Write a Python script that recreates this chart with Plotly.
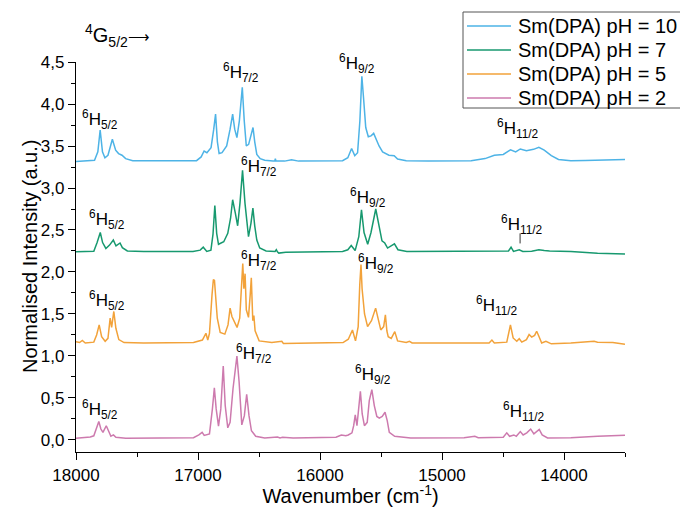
import plotly.graph_objects as go

# ---------------- data ----------------
WN_PH10 = [18000, 17913, 17848, 17821, 17802, 17783, 17763, 17738, 17702, 17675, 17651, 17623, 17593, 17535,
           17155, 17012, 16974, 16950, 16927, 16893, 16871, 16856, 16841, 16827, 16803, 16765, 16737, 16716,
           16699, 16681, 16661, 16637, 16621, 16604, 16585, 16564, 16549, 16535, 16518, 16490, 16453, 16385,
           16371, 16366, 16361, 16290, 16233, 16176, 15986, 15815, 15772, 15741, 15715, 15692, 15673, 15657,
           15642, 15625, 15604, 15582, 15560, 15540, 15516, 15487, 15435, 15392, 15364, 15293, 15112, 14761,
           14713, 14647, 14571, 14498, 14438, 14396, 14358, 14308, 14250, 14206, 14162, 14104, 14045, 13944,
           13827, 13725, 13500]
INT_PH10 = [3.315, 3.322, 3.33, 3.43, 3.69, 3.43, 3.36, 3.39, 3.58, 3.45, 3.41, 3.39, 3.35, 3.325,
            3.32, 3.325, 3.37, 3.44, 3.42, 3.48, 3.70, 3.88, 3.55, 3.41, 3.42, 3.50, 3.70, 3.88,
            3.70, 3.60, 3.80, 4.20, 3.80, 3.50, 3.52, 3.66, 3.72, 3.55, 3.40, 3.35, 3.33, 3.32,
            3.32, 3.35, 3.32, 3.32, 3.335, 3.32, 3.32, 3.325, 3.36, 3.47, 3.385, 3.42, 3.80, 4.33,
            4.05, 3.72, 3.61, 3.62, 3.65, 3.58, 3.50, 3.43, 3.39, 3.385, 3.345, 3.325, 3.32, 3.325,
            3.335, 3.35, 3.39, 3.40, 3.455, 3.43, 3.465, 3.445, 3.46, 3.485, 3.45, 3.385, 3.34, 3.325,
            3.328, 3.33, 3.34]

WN_PH7 = [18000, 17854, 17827, 17801, 17782, 17755, 17725, 17694, 17672, 17639, 17620, 17579, 17445, 17041,
          16982, 16957, 16928, 16894, 16877, 16862, 16847, 16832, 16789, 16756, 16733, 16716, 16694, 16675,
          16656, 16635, 16615, 16586, 16566, 16550, 16535, 16518, 16494, 16442, 16368, 16358, 16349, 16338,
          16281, 15815, 15772, 15744, 15712, 15682, 15660, 15639, 15609, 15582, 15543, 15516, 15492, 15469,
          15446, 15390, 15361, 15288, 14528, 14455, 14434, 14414, 14367, 14338, 14265, 14206, 14162, 14118,
          13944, 13827, 13725, 13500]
INT_PH7 = [2.24, 2.247, 2.35, 2.47, 2.35, 2.28, 2.32, 2.38, 2.31, 2.345, 2.29, 2.25, 2.245, 2.245,
           2.26, 2.295, 2.245, 2.26, 2.45, 2.79, 2.46, 2.33, 2.36, 2.46, 2.64, 2.86, 2.70, 2.55,
           2.82, 3.21, 2.82, 2.42, 2.58, 2.76, 2.55, 2.38, 2.285, 2.25, 2.245, 2.265, 2.24, 2.225,
           2.235, 2.245, 2.265, 2.315, 2.255, 2.42, 2.74, 2.47, 2.33, 2.47, 2.75, 2.54, 2.37, 2.345,
           2.285, 2.335, 2.265, 2.245, 2.245, 2.25, 2.295, 2.245, 2.265, 2.245, 2.248, 2.265, 2.255, 2.25,
           2.243, 2.23, 2.222, 2.213]

WN_PH5 = [18000, 17971, 17948, 17924, 17854, 17831, 17810, 17790, 17761, 17738, 17720, 17708, 17690, 17673,
          17649, 17606, 17445, 17037, 16964, 16935, 16920, 16906, 16885, 16874, 16865, 16851, 16842, 16818,
          16780, 16754, 16737, 16722, 16701, 16680, 16658, 16642, 16633, 16624, 16614, 16604, 16586, 16572,
          16563, 16551, 16542, 16532, 16499, 16395, 16313, 16300, 15811, 15768, 15734, 15709, 15687, 15674,
          15664, 15655, 15648, 15635, 15610, 15578, 15544, 15521, 15502, 15478, 15464, 15452, 15441, 15416,
          15387, 15364, 15293, 15267, 15245, 14614, 14591, 14571, 14469, 14439, 14417, 14387, 14367, 14346,
          14308, 14286, 14265, 14241, 14224, 14206, 14183, 14148, 14104, 13944, 13799, 13753, 13725, 13600,
          13500]
INT_PH5 = [1.17, 1.16, 1.185, 1.155, 1.165, 1.25, 1.37, 1.23, 1.175, 1.21, 1.45, 1.34, 1.53, 1.33,
           1.195, 1.16, 1.155, 1.16, 1.19, 1.27, 1.19, 1.27, 1.73, 1.91, 1.90, 1.60, 1.45, 1.28,
           1.26, 1.37, 1.57, 1.47, 1.40, 1.34, 1.45, 1.81, 2.10, 1.80, 1.98, 1.55, 1.46, 1.73,
           1.93, 1.42, 1.48, 1.30, 1.18, 1.16, 1.175, 1.15, 1.16, 1.20, 1.31, 1.18, 1.35, 1.85,
           2.09, 1.80, 1.67, 1.50, 1.35, 1.42, 1.57, 1.42, 1.31, 1.35, 1.49, 1.30, 1.23, 1.21,
           1.29, 1.18, 1.16, 1.175, 1.155, 1.155, 1.19, 1.155, 1.165, 1.37, 1.215, 1.175, 1.205, 1.165,
           1.195, 1.255, 1.225, 1.245, 1.295, 1.235, 1.155, 1.175, 1.145, 1.155, 1.165, 1.175, 1.165, 1.16,
           1.14]

WN_PH2 = [18000, 17927, 17883, 17854, 17831, 17813, 17796, 17779, 17752, 17731, 17714, 17693, 17673, 17592,
          17037, 16993, 16966, 16949, 16906, 16882, 16866, 16851, 16832, 16813, 16793, 16777, 16756, 16737,
          16713, 16681, 16663, 16641, 16620, 16601, 16582, 16562, 16527, 16453, 16348, 16328, 16307, 16220,
          15869, 15825, 15788, 15768, 15738, 15724, 15711, 15697, 15683, 15669, 15654, 15636, 15613, 15596,
          15575, 15555, 15534, 15514, 15490, 15467, 15449, 15432, 15388, 15257, 14819, 14731, 14703, 14498,
          14469, 14446, 14411, 14391, 14358, 14335, 14305, 14273, 14247, 14227, 14203, 14179, 14135, 13944,
          13799, 13725, 13500]
INT_PH2 = [0.02, 0.028, 0.036, 0.05, 0.15, 0.22, 0.13, 0.09, 0.17, 0.09, 0.045, 0.06, 0.032, 0.02,
           0.028, 0.06, 0.09, 0.055, 0.072, 0.37, 0.62, 0.37, 0.165, 0.37, 0.88, 0.41, 0.145, 0.21,
           0.61, 1.00, 0.69, 0.18, 0.29, 0.545, 0.29, 0.11, 0.045, 0.024, 0.035, 0.025, 0.032, 0.024,
           0.032, 0.06, 0.05, 0.06, 0.085, 0.17, 0.30, 0.17, 0.40, 0.58, 0.31, 0.17, 0.21, 0.47,
           0.60, 0.41, 0.28, 0.26, 0.28, 0.33, 0.23, 0.09, 0.044, 0.024, 0.028, 0.044, 0.028, 0.032,
           0.085, 0.044, 0.06, 0.044, 0.10, 0.06, 0.085, 0.13, 0.072, 0.092, 0.125, 0.06, 0.024, 0.028,
           0.04, 0.045, 0.055]

SERIES_NAMES = ["Sm(DPA) pH = 10", "Sm(DPA) pH = 7", "Sm(DPA) pH = 5", "Sm(DPA) pH = 2"]
SERIES_COLORS = ["#4DB3E6", "#17996F", "#F2A23A", "#CD7AAE"]

# transition labels: wavenumber, intensity, J level
LABEL_X = [17800, 16650, 15697, 14375,
           17745, 16500, 15607, 14345,
           17746, 16500, 15541, 14549,
           17803, 16541, 15566, 14328]
LABEL_Y = [3.82, 4.38, 4.48, 3.71,
           2.62, 3.255, 2.89, 2.57,
           1.66, 2.135, 2.105, 1.60,
           0.36, 1.035, 0.78, 0.335]
LABEL_J = ["5/2", "7/2", "9/2", "11/2"] * 4
POINTER_X = 14360
POINTER_Y = [2.34, 2.46]

X_RANGE = [18000, 13500]
Y_RANGE = [-0.143, 4.5]

FONT = "Liberation Sans, Arial, sans-serif"
W, H = 680, 507
ML, MR, MT, MB = 76, 55, 62, 55
PW, PH = W - ML - MR, H - MT - MB


def px(xp):  # pixel -> paper x
    return (xp - ML) / PW


def py(yp):  # pixel -> paper y
    return (H - MB - yp) / PH


fig = go.Figure()
for name, x, y, c in zip(SERIES_NAMES, [WN_PH10, WN_PH7, WN_PH5, WN_PH2],
                         [INT_PH10, INT_PH7, INT_PH5, INT_PH2], SERIES_COLORS):
    fig.add_trace(go.Scatter(x=x, y=y, mode="lines", name=name, showlegend=False,
                             line=dict(color=c, width=1.5)))

annotations = []
for lx, ly, j in zip(LABEL_X, LABEL_Y, LABEL_J):
    annotations.append(dict(x=lx, y=ly, xref="x", yref="y", showarrow=False,
                            text=f"<sup>6</sup>H<sub>{j}</sub>",
                            font=dict(family=FONT, size=17, color="black"),
                            xanchor="center", yanchor="middle"))
annotations.append(dict(x=px(83), y=py(35), xref="paper", yref="paper", showarrow=False,
                        text="<sup>4</sup>G<sub>5/2</sub><span style=\"font-size:15px\">⟶</span>",
                        font=dict(family=FONT, size=20, color="black"),
                        xanchor="left", yanchor="middle"))
# y axis title
annotations.append(dict(x=px(30), y=0.5, xref="paper", yref="paper", showarrow=False,
                        text="Normalised Intensity (a.u.)", textangle=-90,
                        font=dict(family=FONT, size=20, color="black"),
                        xanchor="center", yanchor="middle"))

shapes = [dict(type="line", xref="x", yref="y", x0=POINTER_X, x1=POINTER_X,
               y0=POINTER_Y[0], y1=POINTER_Y[1], line=dict(color="#333333", width=1))]

# legend box (drawn by hand so the row spacing matches)
shapes.append(dict(type="rect", xref="paper", yref="paper", x0=px(463), x1=px(700),
                   y0=py(108), y1=py(12), line=dict(color="#555555", width=1),
                   fillcolor="white", layer="above"))
for i, (name, c) in enumerate(zip(SERIES_NAMES, SERIES_COLORS)):
    rowy = 26 + 24 * i
    shapes.append(dict(type="line", xref="paper", yref="paper", x0=px(467), x1=px(511),
                       y0=py(rowy), y1=py(rowy), line=dict(color=c, width=1.6), layer="above"))
    annotations.append(dict(x=px(516), y=py(rowy), xref="paper", yref="paper", showarrow=False,
                            text=name, font=dict(family=FONT, size=20, color="black"),
                            xanchor="left", yanchor="middle"))

axis_common = dict(showline=True, linecolor="black", linewidth=1.3, ticks="outside",
                   ticklen=7, tickwidth=1.3, tickcolor="black", showgrid=False, zeroline=False,
                   tickfont=dict(family=FONT, size=17, color="black"), automargin=False)

fig.update_layout(
    width=W, height=H,
    margin=dict(l=ML, r=MR, t=MT, b=MB),
    paper_bgcolor="white", plot_bgcolor="white",
    separators=",.",
    font=dict(family=FONT, color="black"),
    xaxis=dict(range=X_RANGE, dtick=1000, tick0=0, tickformat="d",
               minor=dict(dtick=500, ticks="outside", ticklen=4, tickwidth=1.3, tickcolor="black"),
               title=dict(text="Wavenumber (cm<sup>-1</sup>)", font=dict(family=FONT, size=20), standoff=5),
               **axis_common),
    yaxis=dict(range=Y_RANGE, dtick=0.5, tick0=0, tickformat=".1f",
               minor=dict(dtick=0.25, ticks="outside", ticklen=4, tickwidth=1.3, tickcolor="black"),
               **axis_common),
    annotations=annotations,
    shapes=shapes,
    showlegend=False,
)

fig.write_html("out.html")
